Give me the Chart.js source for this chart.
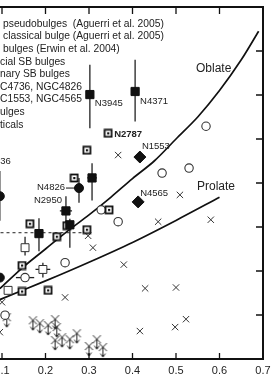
<!DOCTYPE html>
<html>
<head>
<meta charset="utf-8">
<script src="https://cdn.jsdelivr.net/npm/chart.js@4.4.1/dist/chart.umd.min.js"></script>
<style>
  html, body { margin: 0; padding: 0; background: #fff; overflow: hidden; }
  #wrap { position: absolute; left: -80px; top: 0; width: 356px; height: 381px; }
</style>
</head>
<body>
<div id="wrap"><canvas id="vsChart" width="356" height="381"></canvas></div>
<script>
// the figure is a crop: the canvas is shifted left so the left axis falls outside the window
const OFF = 80;

const xTicks = [0.1, 0.2, 0.3, 0.4, 0.5, 0.6, 0.7];
const yTicks = [0.2, 0.4, 0.6, 0.8, 1.0, 1.2, 1.4];

// model curves
const oblateEps = [0.095, 0.15, 0.2, 0.25, 0.3, 0.35, 0.4, 0.45, 0.5, 0.55, 0.6, 0.65, 0.69];
const oblateVs  = [0.32, 0.42, 0.5, 0.58, 0.655, 0.735, 0.82, 0.9, 1.0, 1.1, 1.22, 1.36, 1.49];
const prolateEps = [0.095, 0.2, 0.3, 0.4, 0.5, 0.6];
const prolateVs  = [0.27, 0.355, 0.44, 0.53, 0.63, 0.735];
const dashEps = [0.0, 0.286];
const dashVs  = [0.574, 0.574];

// filled squares with error bars
const fsqEps = [0.302, 0.406, 0.307, 0.247, 0.256, 0.185];
const fsqVs  = [1.202, 1.216, 0.823, 0.673, 0.61, 0.57];
const fsqLo  = [1.049, 1.08, 0.72, 0.615, 0.506, 0.49];
const fsqHi  = [1.338, 1.36, 0.89, 0.74, 0.637, 0.64];
const fsqXerr = [0, 0, 0.011, 0.014, 0, 0];

// filled circles (N4826, N4736 and one at the edge)
const fcEps = [0.277, 0.095, 0.095];
const fcVs  = [0.777, 0.74, 0.37];
const fcLo  = [0.71, 0.628, null];
const fcHi  = [0.823, 0.854, null];

// filled diamonds (N1553, N4565)
const dmEps = [0.417, 0.413];
const dmVs  = [0.918, 0.714];

// open squares with a dot
const dsqEps = [0.344, 0.295, 0.266, 0.164, 0.226, 0.295, 0.346, 0.249, 0.146, 0.146, 0.206];
const dsqVs  = [1.026, 0.949, 0.823, 0.615, 0.556, 0.588, 0.678, 0.606, 0.425, 0.307, 0.312];

// open circles
const ocEps = [0.328, 0.367, 0.468, 0.53, 0.569, 0.245, 0.107, 0.153];
const ocVs  = [0.678, 0.624, 0.845, 0.868, 1.058, 0.438, 0.199, 0.37];
const ocXerr = [0, 0, 0, 0, 0, 0, 0, 0.021];

// open squares with error bars
const osEps = [0.153, 0.194, 0.114];
const osVs  = [0.506, 0.407, 0.312];
const osLo  = [0.47, 0.37, null];
const osHi  = [0.556, 0.438, null];
const osXerr = [0, 0.017, 0];

// ellipticals
const ellEps = [0.367, 0.509, 0.459, 0.58, 0.298, 0.309, 0.38, 0.245, 0.429, 0.5, 0.417, 0.498, 0.523, 0.1, 0.095];
const ellVs  = [0.927, 0.746, 0.624, 0.633, 0.56, 0.506, 0.429, 0.28, 0.321, 0.325, 0.127, 0.145, 0.181, 0.258, 0.122];

// ellipticals, upper limits
const limEps = [0.111, 0.171, 0.187, 0.206, 0.222, 0.226, 0.222, 0.238, 0.256, 0.272, 0.3, 0.318, 0.332];
const limVs  = [0.19, 0.176, 0.163, 0.154, 0.181, 0.145, 0.086, 0.099, 0.09, 0.117, 0.059, 0.09, 0.054];

const galNames = ['N3945', 'N4371', 'N2787', 'N1553', 'N4565', 'N4826', 'N2950', 'N4736'];
const galEps = [0.302, 0.406, 0.344, 0.417, 0.413, 0.277, 0.247, 0.095];
const galVs  = [1.202, 1.216, 1.026, 0.918, 0.714, 0.777, 0.673, 0.74];

const legendLines = [
  'pseudobulges  (Aguerri et al. 2005)',
  'classical bulge (Aguerri et al. 2005)',
  'bulges (Erwin et al. 2004)',
  'cial SB bulges',
  'nary SB bulges',
  'C4736, NGC4826',
  'C1553, NGC4565',
  'ulges',
  'ticals'
];

const pts = (xs, ys) => xs.map((x, i) => ({ x: x, y: ys[i] }));

function makeDotSquare() {
  const c = document.createElement('canvas');
  c.width = 10; c.height = 10;
  const g = c.getContext('2d');
  g.fillStyle = '#fff';
  g.fillRect(1, 1, 8, 8);
  g.strokeStyle = '#111';
  g.lineWidth = 1.8;
  g.strokeRect(1.5, 1.5, 7, 7);
  g.fillStyle = '#111';
  g.fillRect(4, 4, 2.2, 2.2);
  return c;
}

function makeLimit() {
  const c = document.createElement('canvas');
  c.width = 11; c.height = 26;
  const g = c.getContext('2d');
  g.strokeStyle = '#222';
  g.lineWidth = 1;
  g.beginPath();
  g.moveTo(1.5, 9); g.lineTo(9.5, 17);
  g.moveTo(9.5, 9); g.lineTo(1.5, 17);
  g.moveTo(5.5, 13); g.lineTo(5.5, 23);
  g.moveTo(3, 19.5); g.lineTo(5.5, 23); g.lineTo(8, 19.5);
  g.stroke();
  return c;
}

function drawBars(ctx, xs, ys, xsc, ysc, xerr, lo, hi) {
  xs.forEach((x, i) => {
    const px = xsc.getPixelForValue(x), py = ysc.getPixelForValue(ys[i]);
    ctx.beginPath();
    if (lo && lo[i] != null) {
      ctx.moveTo(px, ysc.getPixelForValue(lo[i]));
      ctx.lineTo(px, ysc.getPixelForValue(hi[i]));
    }
    if (xerr && xerr[i]) {
      ctx.moveTo(xsc.getPixelForValue(x - xerr[i]), py);
      ctx.lineTo(xsc.getPixelForValue(x + xerr[i]), py);
    }
    ctx.stroke();
  });
}

const decor = {
  id: 'decor',
  beforeDatasetsDraw(chart) {
    const ctx = chart.ctx, xs = chart.scales.x, ys = chart.scales.y;
    ctx.save();
    ctx.strokeStyle = '#222';
    ctx.lineWidth = 1.3;
    drawBars(ctx, fsqEps, fsqVs, xs, ys, fsqXerr, fsqLo, fsqHi);
    drawBars(ctx, fcEps, fcVs, xs, ys, null, fcLo, fcHi);
    drawBars(ctx, osEps, osVs, xs, ys, osXerr, osLo, osHi);
    drawBars(ctx, ocEps, ocVs, xs, ys, ocXerr, null, null);
    ctx.restore();
  },
  afterDraw(chart) {
    const ctx = chart.ctx, xs = chart.scales.x, ys = chart.scales.y;
    const a = chart.chartArea;
    ctx.save();
    // frame
    ctx.strokeStyle = '#111';
    ctx.lineWidth = 2;
    ctx.beginPath();
    ctx.moveTo(a.left, a.top); ctx.lineTo(a.right, a.top);
    ctx.lineTo(a.right, a.bottom); ctx.lineTo(a.left, a.bottom);
    ctx.stroke();
    // inward ticks
    ctx.lineWidth = 1.3;
    ctx.beginPath();
    xTicks.forEach(v => {
      const px = xs.getPixelForValue(v);
      ctx.moveTo(px, a.bottom); ctx.lineTo(px, a.bottom - 6);
      ctx.moveTo(px, a.top); ctx.lineTo(px, a.top + 7);
    });
    yTicks.forEach(v => {
      const py = ys.getPixelForValue(v);
      ctx.moveTo(a.right, py); ctx.lineTo(a.right - 7, py);
    });
    ctx.stroke();

    ctx.fillStyle = '#222';
    ctx.textBaseline = 'middle';
    // legend (cropped on the left)
    ctx.font = '10.3px "Liberation Sans", Arial, sans-serif';
    ctx.textAlign = 'left';
    legendLines.forEach((t, i) => {
      ctx.fillText(t, OFF + (i < 3 ? 3 : 0), 24 + i * 12.6);
    });
    // model labels
    ctx.font = '12px "Liberation Sans", Arial, sans-serif';
    ctx.fillText('Oblate', OFF + 196, 69);
    ctx.fillText('Prolate', OFF + 197, 187);
    // galaxy names next to their points
    const offs = [[5, 9, 'left'], [5, 10, 'left'], [6, 1, 'left'], [2, -11, 'left'],
                  [2, -9, 'left'], [-14, -1, 'right'], [-4, -11, 'right'], [11, -35, 'right']];
    galNames.forEach((n, i) => {
      const px = xs.getPixelForValue(galEps[i]), py = ys.getPixelForValue(galVs[i]);
      ctx.font = (n === 'N2787' ? 'bold ' : '') + '9.5px "Liberation Sans", Arial, sans-serif';
      ctx.textAlign = offs[i][2];
      ctx.fillText(n, px + offs[i][0], py + offs[i][1]);
      if (n === 'N4826') {
        ctx.lineWidth = 1;
        ctx.beginPath();
        ctx.moveTo(px - 13, py); ctx.lineTo(px - 4, py);
        ctx.stroke();
      }
    });
    ctx.restore();
  }
};

const dotSquare = makeDotSquare();
const limitMark = makeLimit();

new Chart(document.getElementById('vsChart'), {
  type: 'scatter',
  data: {
    datasets: [
      { data: pts(dmEps, dmVs), pointStyle: 'rectRot', pointRadius: 6, backgroundColor: '#111', borderColor: '#111' },
      { data: pts(fcEps, fcVs), pointStyle: 'circle', pointRadius: 4.5, backgroundColor: '#111', borderColor: '#111' },
      { data: pts(fsqEps, fsqVs), pointStyle: 'rect', pointRadius: 5.8, backgroundColor: '#111', borderColor: '#111' },
      { data: pts(dsqEps, dsqVs), pointStyle: dotSquare, pointRadius: 5 },
      { data: pts(osEps, osVs), pointStyle: 'rect', pointRadius: 5.6, backgroundColor: '#fff', borderColor: '#333', borderWidth: 1 },
      { data: pts(ocEps, ocVs), pointStyle: 'circle', pointRadius: 4.2, backgroundColor: '#fff', borderColor: '#333', borderWidth: 1.1 },
      { data: pts(ellEps, ellVs), pointStyle: 'crossRot', pointRadius: 4.5, borderColor: '#333', borderWidth: 1 },
      { data: pts(limEps, limVs), pointStyle: limitMark, pointRadius: 5 },
      { type: 'line', data: pts(oblateEps, oblateVs), borderColor: '#111', borderWidth: 1.7, pointRadius: 0, tension: 0.3 },
      { type: 'line', data: pts(prolateEps, prolateVs), borderColor: '#111', borderWidth: 1.7, pointRadius: 0, tension: 0.3 },
      { type: 'line', data: pts(dashEps, dashVs), borderColor: '#222', borderWidth: 1, borderDash: [3, 3], pointRadius: 0 }
    ]
  },
  options: {
    responsive: false,
    animation: false,
    layout: { padding: { left: 38.5, right: 13, top: 5, bottom: 0 } },
    plugins: { legend: { display: false }, tooltip: { enabled: false } },
    scales: {
      x: {
        type: 'linear', min: 0, max: 0.7,
        afterFit: s => { s.height = 22; },
        border: { display: false },
        grid: { display: false, drawTicks: false },
        ticks: {
          stepSize: 0.1, padding: 5, color: '#222',
          font: { family: '"Liberation Sans", Arial, sans-serif', size: 11 },
          callback: v => Number(v).toFixed(1)
        }
      },
      y: { type: 'linear', min: 0, max: 1.6, display: false }
    }
  },
  plugins: [decor]
});
</script>
</body>
</html>
